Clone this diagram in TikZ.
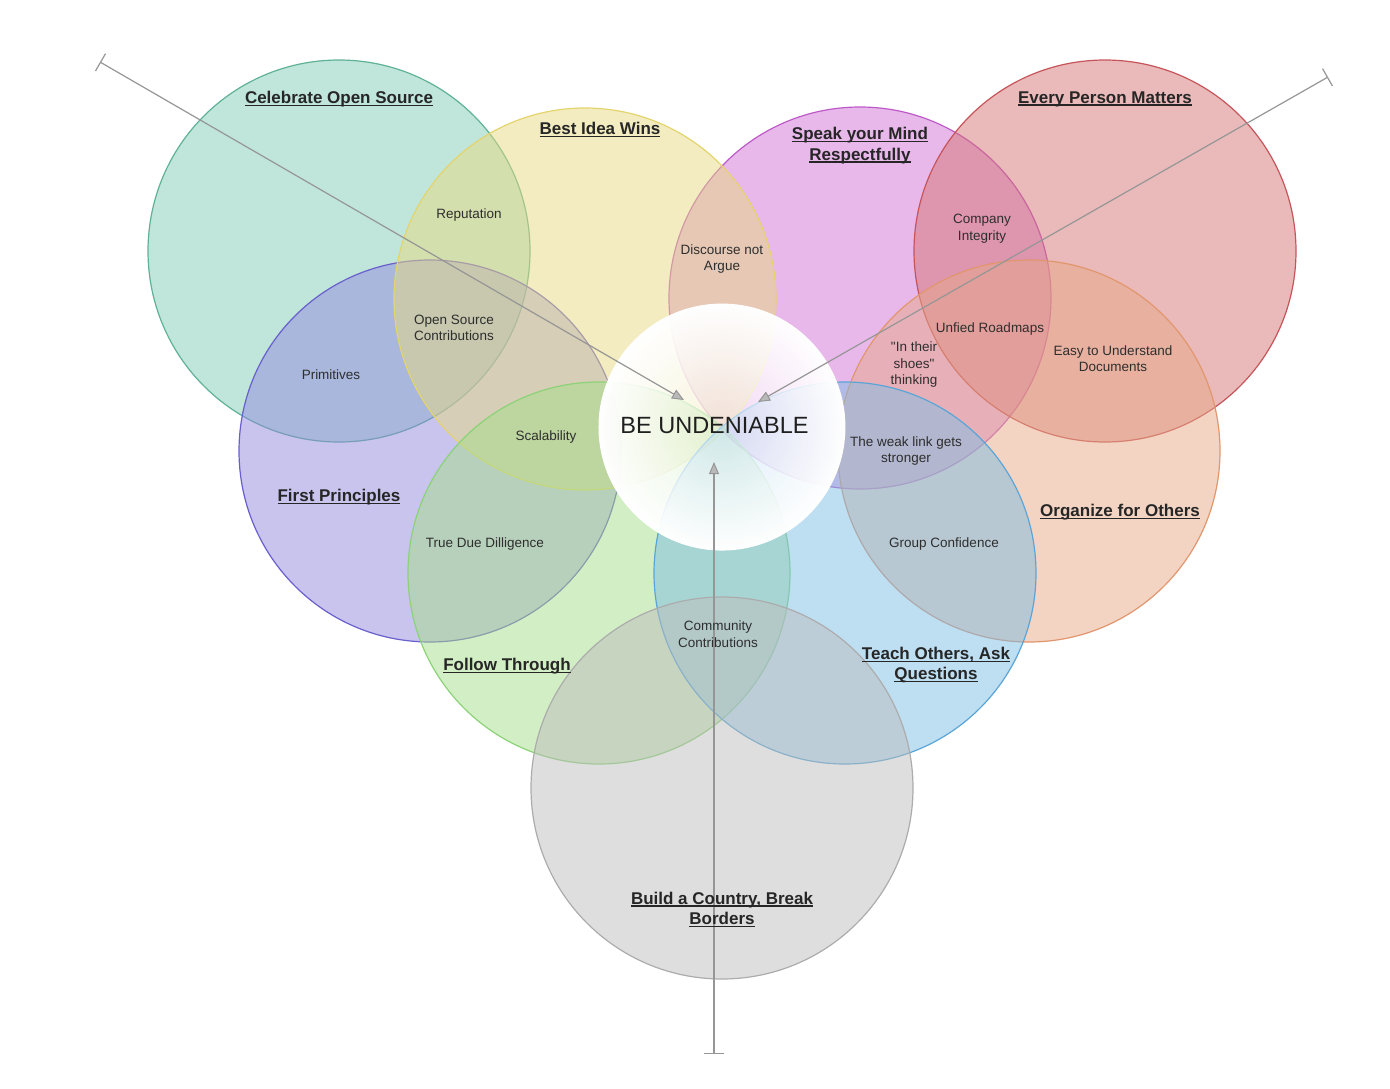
\documentclass[tikz,border=0pt]{standalone}
\usepackage{fontspec}
\setmainfont{Liberation Sans}
\newfontfamily\qfont{Liberation Sans}[Ligatures=TeXOff]
\usetikzlibrary{arrows.meta,fadings}
\definecolor{fTeal}{RGB}{129,203,181}   \definecolor{sTeal}{RGB}{95,178,150}
\definecolor{fYel}{RGB}{231,217,129}    \definecolor{sYel}{RGB}{228,212,110}
\definecolor{fPink}{RGB}{209,113,215}   \definecolor{sPink}{RGB}{190,90,200}
\definecolor{fRed}{RGB}{213,115,115}    \definecolor{sRed}{RGB}{198,85,90}
\definecolor{fPur}{RGB}{145,137,221}    \definecolor{sPur}{RGB}{105,95,205}
\definecolor{fOra}{RGB}{231,169,135}    \definecolor{sOra}{RGB}{225,150,110}
\definecolor{fGre}{RGB}{165,221,137}    \definecolor{sGre}{RGB}{140,210,120}
\definecolor{fBlu}{RGB}{125,189,229}    \definecolor{sBlu}{RGB}{90,165,215}
\definecolor{fGry}{RGB}{189,189,189}    \definecolor{sGry}{RGB}{172,172,172}
\definecolor{arrowgray}{RGB}{150,150,150}
\definecolor{tipgray}{RGB}{185,185,185}
\newcommand\ulx[1]{\setbox0\hbox{#1}\rlap{\rule[-2.6pt]{\wd0}{1.3pt}}\box0}
\newcommand\sq{{\qfont"}}
\tikzfading[name=wfade, inner color=transparent!55, outer color=transparent!0]
\tikzset{
  venn/.style={circle, minimum size=382pt, inner sep=0pt, line width=1.2pt, fill opacity=0.5},
  title/.style={font=\fontsize{17}{20.5}\selectfont\bfseries, align=center, text=black!85},
  lbl/.style={font=\fontsize{13.5}{16.5}\selectfont, align=center, text=black!82},
  conn/.style={draw=arrowgray, line width=1.2pt,
    arrows={Bar[width=20pt,line width=1.2pt]-Triangle[width=10pt,length=12pt,fill=tipgray,line width=1pt]}}
}
\begin{document}
\begin{tikzpicture}[x=1pt,y=-1pt]
\useasboundingbox (0,0) rectangle (1390,1088);
% circles
\node[venn, fill=fTeal, draw=sTeal] (cos) at (339,251) {};
\node[venn, fill=fPur,  draw=sPur]  (fp)  at (430,451) {};
\node[venn, fill=fPink, draw=sPink] (sym) at (860,298) {};
\node[venn, fill=fYel,  draw=sYel]  (biw) at (585,299) {};
\node[venn, fill=fRed,  draw=sRed]  (epm) at (1105,251) {};
\node[venn, fill=fOra,  draw=sOra]  (ofo) at (1029,451) {};
\node[venn, fill=fGre,  draw=sGre]  (ft)  at (599,573) {};
\node[venn, fill=fBlu,  draw=sBlu]  (toa) at (845,573) {};
\node[venn, fill=fGry,  draw=sGry]  (bac) at (722,788) {};
% centre
\node[circle, minimum size=247pt, inner sep=0pt] (be) at (722,427) {};
\fill[white, path fading=wfade] (be.center) circle (123.5);
% connectors
\coordinate (s1) at (100,62);
\coordinate (e1) at (684,400);
\coordinate (s2) at (1328,77);
\coordinate (e2) at (758,402);
\coordinate (s3) at (714,1054);
\coordinate (e3) at (714,462);
\draw[conn] (s1) -- (e1);
\draw[conn] (s2) -- (e2);
\draw[conn] (s3) -- (e3);
% texts
\node[font=\fontsize{23.5}{27}\selectfont, text=black!88] (bet) at (714.5,426) {BE UNDENIABLE};
\node[title] (t1) at (339,99) {\ulx{Celebrate Open Source}};
\node[title] (t2) at (600,130) {\ulx{Best Idea Wins}};
\node[title] (t3) at (860,145.5) {\ulx{Speak your Mind}\\\ulx{Respectfully}};
\node[title] (t4) at (1105,99) {\ulx{Every Person Matters}};
\node[title] (t5) at (339,497) {\ulx{First Principles}};
\node[title] (t6) at (1120,512) {\ulx{Organize for Others}};
\node[title] (t7) at (507,666) {\ulx{Follow Through}};
\node[title] (t8) at (936,665) {\ulx{Teach Others, Ask}\\\ulx{Questions}};
\node[title] (t9) at (722,909.5) {\ulx{Build a Country, Break}\\\ulx{Borders}};
\node[lbl] (l1) at (469,215) {Reputation};
\node[lbl] (l2) at (722,259) {Discourse not\\Argue};
\node[lbl] (l3) at (982,228.5) {Company\\Integrity};
\node[lbl] (l4) at (454,328) {Open Source\\Contributions};
\node[lbl] (l5) at (331,375) {Primitives};
\node[lbl] (l6) at (990,329) {Unfied Roadmaps};
\node[lbl] (l7) at (914,364.5) {\sq In their\\shoes\sq\\thinking};
\node[lbl] (l8) at (1113,358.5) {Easy to Understand\\Documents};
\node[lbl] (l9) at (546,437) {Scalability};
\node[lbl] (l10) at (906,451) {The weak link gets\\stronger};
\node[lbl] (l11) at (485,544) {True Due Dilligence};
\node[lbl] (l12) at (944,544) {Group Confidence};
\node[lbl] (l13) at (718,634) {Community\\Contributions};
\end{tikzpicture}
\end{document}
